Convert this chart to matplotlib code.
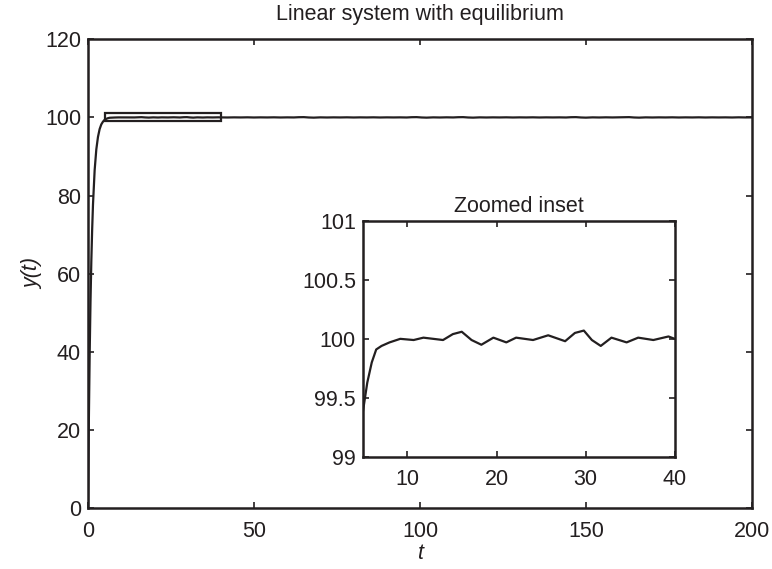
import matplotlib
matplotlib.use("Agg")
import matplotlib.pyplot as plt
from matplotlib.patches import Rectangle
from matplotlib.ticker import FormatStrFormatter

plt.rcParams['font.family'] = ['Liberation Sans', 'DejaVu Sans']

# response: the rise, the zoomed part, then the long tail
t_rise = [0, 0.25, 0.5, 0.75, 1.0, 1.25, 1.5, 2.0, 2.5, 3.0, 3.5, 4.0, 4.5]
y_rise = [0, 22.1, 39.3, 52.8, 63.2, 71.3, 77.7, 86.5, 91.8, 95.0, 97.0, 98.2, 98.9]

t_zoom = [5.0, 5.5, 6.0, 6.5, 7.1, 8.0, 9.2, 10.7, 11.8, 14.0, 15.1, 16.1, 17.2, 18.3,
          19.65, 21.1, 22.2, 24.1, 25.8, 27.7, 28.8, 29.8, 30.7, 31.7, 32.9, 34.6,
          35.9, 37.6, 39.3, 40.0]
y_zoom = [99.38, 99.63, 99.80, 99.91, 99.94, 99.97, 100.0, 99.99, 100.01, 99.99, 100.04,
          100.06, 99.99, 99.95, 100.01, 99.97, 100.01, 99.99, 100.03, 99.98, 100.05,
          100.07, 99.99, 99.94, 100.01, 99.97, 100.01, 99.99, 100.02, 100.0]

t_tail = [42, 44, 46, 48, 50, 52, 54, 56, 58, 60, 62, 63.5, 65, 66.5, 68, 70, 72, 74, 76,
          78, 80, 82, 84, 86, 88, 90, 92, 94, 96, 97.5, 99, 100.5, 102, 104, 106, 108,
          110, 111.5, 113, 114.5, 116, 118, 120, 122, 124, 126, 128, 130, 132, 134, 136,
          138, 140, 142, 144, 145.5, 147, 148.5, 150, 152, 154, 156, 158, 160, 161.5,
          163, 164.5, 166, 168, 170, 172, 174, 176, 178, 180, 182, 184, 186, 188, 190,
          192, 194, 196, 198, 200]
y_tail = [99.98, 100.01, 99.99, 100.02, 99.98, 100.01, 99.99, 100.02, 99.98, 100.01,
          99.99, 100.05, 100.07, 99.98, 99.94, 100.01, 99.98, 100.01, 99.99, 100.02,
          99.98, 100.01, 99.99, 100.02, 99.98, 100.01, 99.99, 100.01, 99.98, 100.05,
          100.07, 99.98, 99.94, 100.01, 99.98, 100.02, 99.99, 100.05, 100.07, 99.98,
          99.94, 100.01, 99.98, 100.01, 99.99, 100.02, 99.98, 100.01, 99.99, 100.02,
          99.98, 100.01, 99.99, 100.01, 99.98, 100.05, 100.07, 99.98, 99.94, 100.01,
          99.98, 100.02, 99.99, 100.02, 100.05, 100.07, 99.98, 99.94, 100.01, 99.98,
          100.01, 99.99, 100.02, 99.98, 100.01, 99.99, 100.02, 99.98, 100.01, 99.99,
          100.01, 99.98, 100.02, 99.99, 100.0]

t = t_rise + t_zoom + t_tail
y = y_rise + y_zoom + y_tail

main_xticks = [0, 50, 100, 150, 200]
main_yticks = [0, 20, 40, 60, 80, 100, 120]
inset_xticks = [10, 20, 30, 40]
inset_yticks = [99, 99.5, 100, 100.5, 101]

ink = '#231f20'
fs = 15.5

fig = plt.figure(figsize=(7.72, 5.69), dpi=100)
ax = fig.add_axes([0.114, 0.107, 0.860, 0.824])
ax.plot(t, y, color=ink, lw=1.6)
ax.add_patch(Rectangle((5, 99), 35, 2, fill=False, ec=ink, lw=1.6))
ax.set_xlim(0, 200)
ax.set_ylim(0, 120)
ax.set_xticks(main_xticks)
ax.set_yticks(main_yticks)
ax.set_title('Linear system with equilibrium', fontsize=fs, pad=14, color=ink)
ax.set_xlabel('t', fontsize=fs, fontstyle='italic', labelpad=1, color=ink)
ax.set_ylabel('y(t)', fontsize=fs, fontstyle='italic', labelpad=1, color=ink)

ins = fig.add_axes([0.470, 0.197, 0.404, 0.415])
ins.plot(t, y, color=ink, lw=1.6)
ins.set_xlim(5, 40)
ins.set_ylim(99, 101)
ins.set_xticks(inset_xticks)
ins.set_yticks(inset_yticks)
ins.yaxis.set_major_formatter(FormatStrFormatter('%g'))
ins.set_title('Zoomed inset', fontsize=fs, pad=6, color=ink)

for a in (ax, ins):
    a.tick_params(direction='in', top=True, right=True, length=4, width=1.2,
                  labelsize=fs, colors=ink, pad=5)
    a.tick_params(axis='x', pad=9)
    for s in a.spines.values():
        s.set_linewidth(1.8)
        s.set_color(ink)

fig.savefig('out.png', dpi=100)
